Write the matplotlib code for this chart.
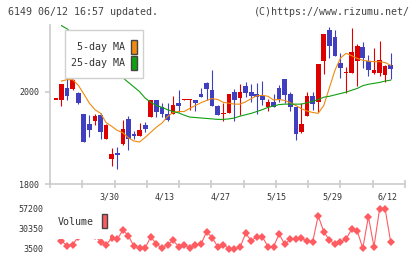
import numpy as np
import matplotlib
matplotlib.use("Agg")
import matplotlib.pyplot as plt
from matplotlib.patches import Rectangle

plt.rcParams['font.family'] = ['DejaVu Sans Mono']

# daily candles, index 0 = 3/13 ... 60 = 6/12
opens = [1983, 1982, 2007, 2005, 1998, 1951, 1930, 1937, 1950, 1898,
         1854, 1867, 1887, 1940, 1908, 1905, 1928, 1946, 1982, 1967,
         1952, 1952, 1976, 1982, 1982, 1982, 1995, 2019, 2004, 1970,
         1952, 1953, 1999, 1987, 2012, 1999, 1995, 1991, 1966, 1978,
         2008, 2027, 1995, 1966, 1913, 1948, 1991, 1978, 2067, 2134,
         2118, 2063, 2040, 2041, 2066, 2096, 2066, 2041, 2041, 2036, 2058]
closes = [1983, 2017, 1991, 2025, 1976, 1892, 1918, 1947, 1913, 1928,
          1865, 1862, 1919, 1898, 1905, 1917, 1919, 1982, 1955, 1951,
          1939, 1971, 1968, 1984, 1984, 1975, 1989, 2005, 1970, 1950,
          1954, 1995, 1982, 1999, 1998, 1991, 1989, 1981, 1978, 1966,
          1985, 1993, 1966, 1908, 1931, 1991, 1973, 2060, 2125, 2098,
          2078, 2052, 2043, 2086, 2099, 2074, 2047, 2048, 2069, 2056, 2049]
highs = [1983, 2017, 2031, 2027, 2000, 1952, 1949, 1952, 1953, 1929,
         1879, 1881, 1939, 1948, 1915, 1932, 1935, 1982, 1982, 1975,
         1975, 1991, 2004, 1985, 1984, 1982, 2007, 2022, 2047, 1972,
         1976, 1995, 2005, 2017, 2020, 2017, 2018, 2023, 1985, 1995,
         2014, 2027, 2000, 1966, 1976, 2000, 2000, 2060, 2125, 2139,
         2134, 2084, 2053, 2137, 2103, 2108, 2079, 2094, 2110, 2058, 2084]
lows = [1983, 1969, 1982, 2003, 1973, 1890, 1901, 1927, 1897, 1897,
        1838, 1833, 1885, 1874, 1897, 1905, 1913, 1946, 1946, 1946,
        1937, 1952, 1957, 1982, 1961, 1959, 1989, 1981, 1970, 1950,
        1937, 1953, 1937, 1950, 1989, 1978, 1952, 1971, 1959, 1966,
        1978, 1976, 1959, 1895, 1911, 1948, 1960, 1957, 2038, 2072,
        2078, 2029, 1998, 2041, 2013, 2051, 2035, 2038, 2034, 2020, 2028]

ma5 = [np.nan, 2023, 2026, 2026, 2014, 1995, 1975, 1961, 1953, 1933,
       1925, 1916, 1911, 1900, 1893, 1891, 1901, 1912, 1923, 1932,
       1946, 1955, 1957, 1957, 1964, 1970, 1976, 1981, 1985, 1983,
       1977, 1975, 1973, 1973, 1978, 1985, 1991, 1992, 1990, 1982,
       1983, 1981, 1976, 1970, 1963, 1958, 1955, 1953, 1970, 2008,
       2046, 2073, 2083, 2078, 2072, 2068, 2066, 2065, 2065, 2063, 2057]
ma25 = [np.nan, 2143, 2136, 2126, 2116, 2106, 2095, 2084, 2073, 2062,
        2051, 2040, 2030, 2020, 2010, 2000, 1986, 1977, 1970, 1966,
        1961, 1957, 1954, 1949, 1945, 1944, 1943, 1942, 1941, 1940,
        1940, 1941, 1943, 1947, 1950, 1953, 1957, 1961, 1966, 1969,
        1972, 1973, 1973, 1973, 1973, 1976, 1979, 1983, 1988, 1990,
        1993, 1996, 1999, 2003, 2007, 2013, 2016, 2018, 2020, 2023, 2025]

volume = [np.nan, 14200, 8000, 9500, 19500, 30000, 27000, 20500, 13500, 9500,
          17860, 16520, 29000, 20950, 7000, 5500, 5000, 20000, 10000, 5000,
          9300, 15000, 6590, 8870, 5200, 9300, 9810, 26800, 18670, 6590,
          9300, 3800, 3500, 5780, 24580, 14640, 20010, 20010, 6590, 6590,
          23640, 9810, 16520, 16520, 17860, 14240, 12490, 48210, 26730, 15580,
          9810, 12490, 16930, 29940, 27660, 4440, 46870, 6590, 57200, 57200, 12490]

date_labels = ['3/30', '4/13', '4/27', '5/15', '5/29', '6/12']
date_index = [10, 20, 30, 40, 50, 60]
price_ticks = [1800, 2000]
vol_ticks = [3500, 30350, 57200]

W, H = 420, 259
RED = '#dd0000'
BLUE = '#3f3fbf'
ORANGE = '#f08a10'
GREEN = '#10a010'
VOLC = '#ff5c62'
GRAY = '#cccccc'
TXT = '#333333'


def fr(x0, y0, x1, y1):
    # pixel box (top-left origin) -> figure fraction rect
    return [x0 / W, 1 - y1 / H, (x1 - x0) / W, (y1 - y0) / H]


fig = plt.figure(figsize=(W / 100, H / 100), dpi=100)

x = np.arange(len(opens))
xlim = (-1.06, 62.56)

# price panel
ax = fig.add_axes(fr(50, 25, 405, 184))
for i in x:
    up = closes[i] >= opens[i]
    c = RED if up else BLUE
    ax.vlines(i, lows[i], highs[i], color=c, lw=0.8, zorder=2)
    b0 = min(opens[i], closes[i])
    bh = max(abs(closes[i] - opens[i]), 2.2)
    ax.add_patch(Rectangle((i - 0.42, b0), 0.84, bh, facecolor=c,
                           edgecolor='none', zorder=3))
ax.plot(x, ma5, color=ORANGE, lw=0.8, zorder=4)
ax.plot(x, ma25, color=GREEN, lw=0.8, zorder=4)
ax.set_xlim(*xlim)
ax.set_ylim(1800, 2144.4)
for s in ['top', 'right']:
    ax.spines[s].set_visible(False)
for s in ['left', 'bottom']:
    ax.spines[s].set_color(GRAY)
    ax.spines[s].set_linewidth(1.2)
ax.set_yticks(price_ticks)
ax.set_yticklabels([str(v) for v in price_ticks])
ax.tick_params(axis='y', length=3.6, width=1.2, color=GRAY, labelsize=6,
               labelcolor=TXT, pad=4)
ax.set_xticks(np.linspace(xlim[0], xlim[1], 12))
ax.set_xticklabels([])
ax.tick_params(axis='x', length=5.5, width=1.2, color=GRAY, direction='inout')
for lab, i in zip(date_labels, date_index):
    fig.text((55.9 + 5.58 * (i - 0.5)) / W, 1 - 197 / H, lab, fontsize=6,
             color=TXT, ha='center', va='center')

# volume panel
axv = fig.add_axes(fr(50, 203, 405, 255))
axv.plot(x, volume, color=VOLC, lw=0.8, marker='D', markersize=3.9,
         markeredgewidth=0, zorder=2)
axv.set_xlim(*xlim)
axv.set_ylim(3500 - 6 * 1342.5, 3500 + 46 * 1342.5)
for s in axv.spines.values():
    s.set_visible(False)
axv.set_xticks([])
axv.set_yticks(vol_ticks)
axv.set_yticklabels([str(v) for v in vol_ticks])
axv.tick_params(axis='y', length=0, labelsize=6, labelcolor=TXT, pad=4.5)

# legends
fig.add_artist(Rectangle(fr(65, 30, 143, 78)[:2], 78 / W, 48 / H,
                         transform=fig.transFigure, facecolor='white',
                         edgecolor='#d0d0d0', lw=1, zorder=5))
for lab, col, yc in [('5-day MA', ORANGE, 46.5), ('25-day MA', GREEN, 62.5)]:
    fig.text(125 / W, 1 - yc / H, lab, fontsize=7.2, color=TXT,
             ha='right', va='center', zorder=6)
    r = fr(131, yc - 7, 137, yc + 7)
    fig.add_artist(Rectangle(r[:2], r[2], r[3], transform=fig.transFigure,
                             facecolor=col, edgecolor='#444444', lw=1, zorder=6))

fig.add_artist(Rectangle(fr(55, 212, 110, 238.5)[:2], 55 / W, 26.5 / H,
                         transform=fig.transFigure, facecolor='white',
                         edgecolor='none', zorder=5))
fig.text(58 / W, 1 - 222 / H, 'Volume', fontsize=7.2, color=TXT,
         ha='left', va='center', zorder=6)
r = fr(101.5, 213.5, 107, 228)
fig.add_artist(Rectangle(r[:2], r[2], r[3], transform=fig.transFigure,
                         facecolor=VOLC, edgecolor='#444444', lw=1, zorder=6))

# header
fig.text(8 / W, 1 - 12 / H, '6149 06/12 16:57 updated.', fontsize=7.2,
         color='#444444', ha='left', va='center')
fig.text(410 / W, 1 - 12 / H, '(C)https://www.rizumu.net/', fontsize=7.2,
         color='#444444', ha='right', va='center')

fig.savefig('out.png', dpi=100, facecolor='white')
